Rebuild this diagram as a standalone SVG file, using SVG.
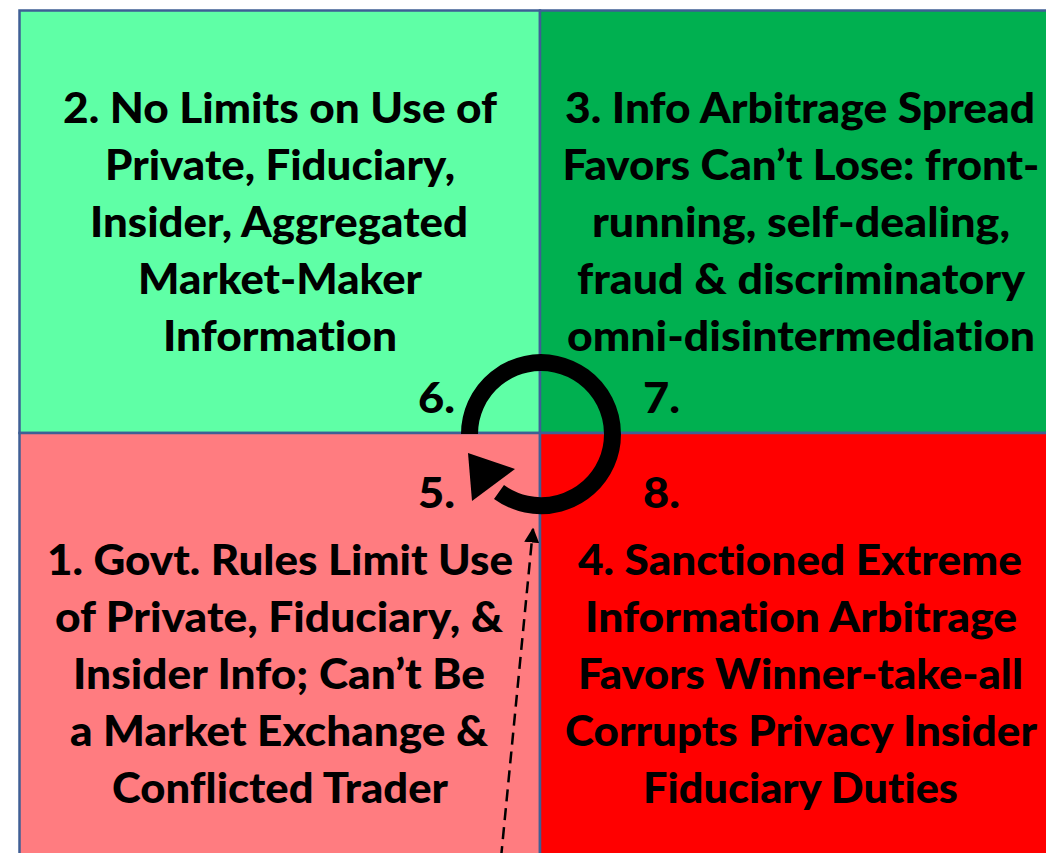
<svg xmlns="http://www.w3.org/2000/svg" width="1046" height="853" viewBox="0 0 1046 853">
<style>
.q{stroke:#3F5F95;stroke-width:2.5}
.t{font-family:Lato,"Liberation Sans",sans-serif;font-weight:900;font-size:42px;fill:#000;text-anchor:middle;font-variant-ligatures:none;font-feature-settings:"liga" 0,"clig" 0}
.n{font-family:Lato,"Liberation Sans",sans-serif;font-weight:900;font-size:42px;fill:#000}
</style>
<defs>
<marker id="ah" viewBox="0 0 10 10" refX="9" refY="5" markerWidth="6" markerHeight="6" orient="auto" markerUnits="strokeWidth">
<path d="M0,0 L10,5 L0,10 z" fill="#000"/>
</marker>
</defs>
<rect x="0" y="0" width="1046" height="853" fill="#fff"/>
<g id="q2">
<rect class="q" x="19.5" y="10.5" width="520.5" height="422.5" fill="#5FFFA6"/>
<text class="t" x="280" y="123" textLength="434" lengthAdjust="spacingAndGlyphs">2. No Limits on Use of</text>
<text class="t" x="280" y="180" textLength="350" lengthAdjust="spacingAndGlyphs">Private, Fiduciary,</text>
<text class="t" x="279" y="237" textLength="378" lengthAdjust="spacingAndGlyphs">Insider, Aggregated</text>
<text class="t" x="280" y="294" textLength="284" lengthAdjust="spacingAndGlyphs">Market-Maker</text>
<text class="t" x="280" y="351" textLength="234" lengthAdjust="spacingAndGlyphs">Information</text>
</g>
<g id="q3">
<rect class="q" x="540" y="10.5" width="520" height="422.5" fill="#00B050"/>
<text class="t" x="800" y="123" textLength="470" lengthAdjust="spacingAndGlyphs">3. Info Arbitrage Spread</text>
<text class="t" x="801" y="180" textLength="477" lengthAdjust="spacingAndGlyphs">Favors Can’t Lose: front-</text>
<text class="t" x="801" y="237" textLength="418" lengthAdjust="spacingAndGlyphs">running, self-dealing,</text>
<text class="t" x="801" y="294" textLength="448" lengthAdjust="spacingAndGlyphs">fraud &amp; discriminatory</text>
<text class="t" x="801" y="351" textLength="468" lengthAdjust="spacingAndGlyphs">omni-disintermediation</text>
</g>
<g id="q1">
<rect class="q" x="19.5" y="433" width="520.5" height="440" fill="#FF7C80"/>
<text class="t" x="280" y="575" textLength="466" lengthAdjust="spacingAndGlyphs">1. Govt. Rules Limit Use</text>
<text class="t" x="279" y="632" textLength="448" lengthAdjust="spacingAndGlyphs">of Private, Fiduciary, &amp;</text>
<text class="t" x="279" y="689" textLength="412" lengthAdjust="spacingAndGlyphs">Insider Info; Can’t Be</text>
<text class="t" x="279" y="746" textLength="418" lengthAdjust="spacingAndGlyphs">a Market Exchange &amp;</text>
<text class="t" x="280" y="803" textLength="336" lengthAdjust="spacingAndGlyphs">Conflicted Trader</text>
</g>
<g id="q4">
<rect class="q" x="540" y="433" width="520" height="440" fill="#FF0000"/>
<text class="t" x="800" y="575" textLength="444" lengthAdjust="spacingAndGlyphs">4. Sanctioned Extreme</text>
<text class="t" x="801" y="632" textLength="432" lengthAdjust="spacingAndGlyphs">Information Arbitrage</text>
<text class="t" x="800.5" y="689" textLength="445" lengthAdjust="spacingAndGlyphs">Favors Winner-take-all</text>
<text class="t" x="801" y="746" textLength="472" lengthAdjust="spacingAndGlyphs">Corrupts Privacy Insider</text>
<text class="t" x="800.5" y="803" textLength="315" lengthAdjust="spacingAndGlyphs">Fiduciary Duties</text>
</g>
<g id="labels">
<text class="n" x="418" y="413" textLength="37" lengthAdjust="spacingAndGlyphs">6.</text>
<text class="n" x="643" y="413" textLength="37" lengthAdjust="spacingAndGlyphs">7.</text>
<text class="n" x="418" y="508" textLength="37" lengthAdjust="spacingAndGlyphs">5.</text>
<text class="n" x="643" y="508" textLength="37" lengthAdjust="spacingAndGlyphs">8.</text>
</g>
<g id="connectors">
<path d="M469.5,434 A71.5,71.5 0 1 1 499,492" fill="none" stroke="#000" stroke-width="17"/>
<polygon points="468,453 515,469 472,501" fill="#000"/>
<line x1="501" y1="858" x2="533" y2="529" stroke="#000" stroke-width="2.5" stroke-dasharray="12,7" marker-end="url(#ah)"/>
</g>
</svg>
